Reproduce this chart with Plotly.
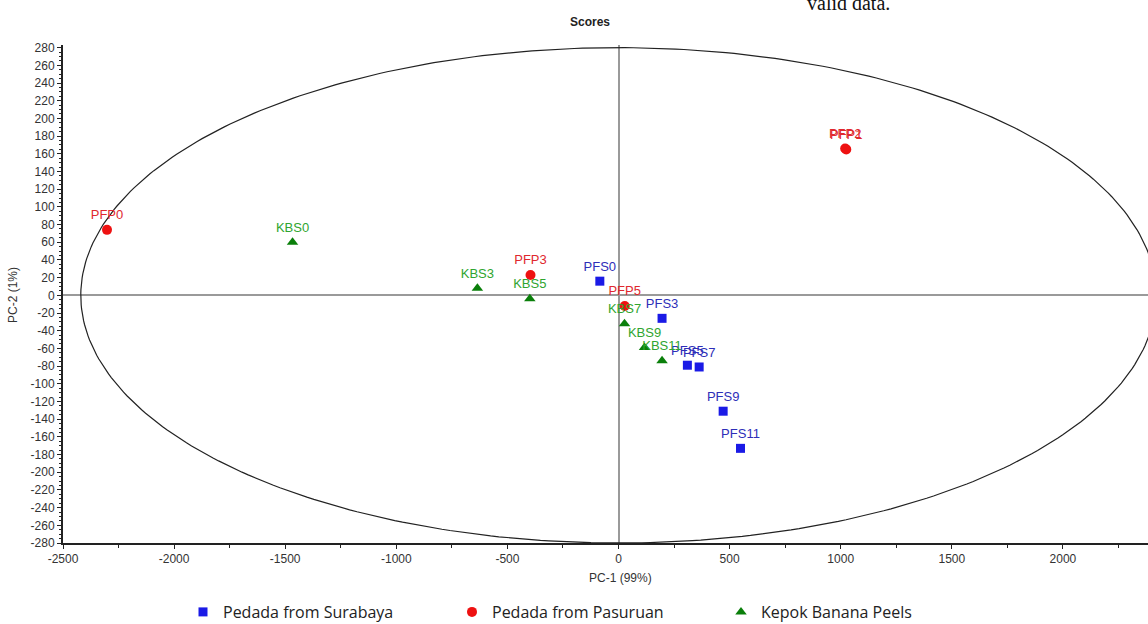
import numpy as np
import plotly.graph_objects as go

# ---- data ----
pfs_labels = ["PFS0", "PFS3", "PFS5", "PFS7", "PFS9", "PFS11"]
pfs_x = [-84, 196, 310, 363, 471, 549]
pfs_y = [16, -26, -79, -81, -131, -173]

pfp_labels = ["PFP0", "PFP1", "PFP2", "PFP3", "PFP5"]
pfp_x = [-2302, 1025, 1020, -396, 28]
pfp_y = [74, 165, 166, 23, -12]

kbs_labels = ["KBS0", "KBS3", "KBS5", "KBS7", "KBS9", "KBS11"]
kbs_x = [-1467, -635, -399, 27, 117, 196]
kbs_y = [60, 8, -4, -32, -59, -74]

series_names = ["Pedada from Surabaya", "Pedada from Pasuruan", "Kepok Banana Peels"]

x_ticks = list(range(-2500, 2001, 500))
y_ticks = list(range(-280, 281, 20))

# Hotelling T2 ellipse semi-axes
ell_a = 2420
ell_b = 280

x_range = [-2500, 2383]
y_range = [-280, 283]

W, H = 1148, 624
L, T = 63, 45
PW, PH = 1085, 498


def px(X):  # screen x -> paper x
    return (X - L) / PW


def py(Y):  # screen y -> paper y
    return (T + PH - Y) / PH


fig = go.Figure()

t = np.linspace(0, 2 * np.pi, 400)
fig.add_trace(go.Scatter(x=ell_a * np.cos(t), y=ell_b * np.sin(t), mode="lines",
                         line=dict(color="#222222", width=1.2), showlegend=False,
                         hoverinfo="skip"))

lab_font = dict(family="Liberation Sans, Arial", size=13)
fig.add_trace(go.Scatter(x=pfs_x, y=pfs_y, mode="markers+text", text=pfs_labels,
                         textposition="top center", name=series_names[0],
                         marker=dict(symbol="square", size=9, color="#1a1ae6"),
                         textfont=dict(color="#2e2eb8", **lab_font)))
fig.add_trace(go.Scatter(x=pfp_x, y=pfp_y, mode="markers+text", text=pfp_labels,
                         textposition="top center", name=series_names[1],
                         marker=dict(symbol="circle", size=10, color="#ee1111"),
                         textfont=dict(color="#e0282e", **lab_font)))
fig.add_trace(go.Scatter(x=kbs_x, y=kbs_y, mode="markers+text", text=kbs_labels,
                         textposition="top center", name=series_names[2],
                         marker=dict(symbol="triangle-up", size=10, color="#0a7f0a"),
                         textfont=dict(color="#2fa52f", **lab_font)))

tick_font = dict(family="Liberation Sans, Arial", size=12, color="#333333")

fig.update_xaxes(range=x_range, tickvals=x_ticks, ticktext=[str(v) for v in x_ticks],
                 showgrid=False, zeroline=True, zerolinecolor="#9a9a9a", zerolinewidth=1.5,
                 showline=True, linecolor="#222222", linewidth=2, ticks="outside",
                 ticklen=4, tickcolor="#222222", tickfont=tick_font,
                 minor=dict(dtick=250, tick0=0, ticks="outside", ticklen=3, tickcolor="#222222"))
fig.update_yaxes(range=y_range, tickvals=y_ticks, ticktext=[str(v) for v in y_ticks],
                 showgrid=False, zeroline=True, zerolinecolor="#9a9a9a", zerolinewidth=1.5,
                 showline=True, linecolor="#222222", linewidth=2, ticks="outside",
                 ticklen=4, tickcolor="#222222", tickfont=tick_font,
                 minor=dict(dtick=5, tick0=0, ticks="outside", ticklen=2, tickcolor="#222222"))

fig.update_layout(
    width=W, height=H,
    margin=dict(l=L, r=W - L - PW, t=T, b=H - T - PH, autoexpand=False),
    plot_bgcolor="white", paper_bgcolor="white",
    showlegend=True,
    legend=dict(orientation="h", x=px(183), y=py(595), xanchor="left", yanchor="top",
                entrywidth=224, entrywidthmode="pixels",
                font=dict(family="Open Sans", size=16, color="#222222"),
                bgcolor="rgba(0,0,0,0)"),
    annotations=[
        dict(text="<b>Scores</b>", x=px(590), y=py(22), xref="paper", yref="paper",
             xanchor="center", yanchor="middle", showarrow=False,
             font=dict(family="Liberation Sans, Arial", size=12, color="#222")),
        dict(text="valid data.", x=px(848), y=py(3), xref="paper", yref="paper",
             xanchor="center", yanchor="middle", showarrow=False,
             font=dict(family="Liberation Serif", size=20, color="#111")),
        dict(text="PC-1 (99%)", x=px(620), y=py(578), xref="paper", yref="paper",
             xanchor="center", yanchor="middle", showarrow=False,
             font=dict(family="Liberation Sans, Arial", size=12, color="#333")),
        dict(text="PC-2 (1%)", x=px(13), y=py(295), xref="paper", yref="paper",
             xanchor="center", yanchor="middle", showarrow=False, textangle=-90,
             font=dict(family="Liberation Sans, Arial", size=12, color="#333")),
    ],
)

fig.write_html("out.html", config={"displayModeBar": False},
               post_script="document.body.style.margin='0';document.body.style.overflow='hidden';")
